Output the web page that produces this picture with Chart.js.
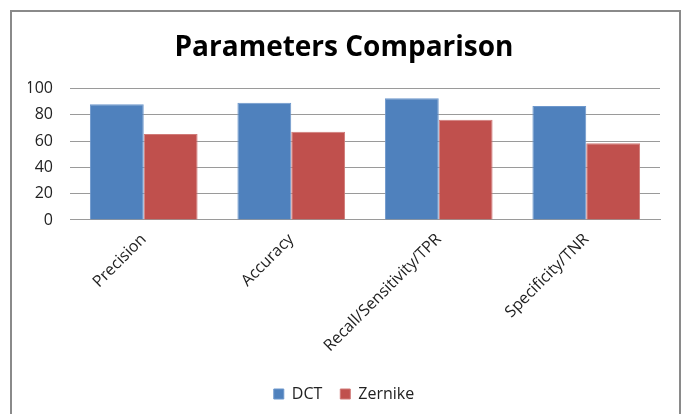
<!DOCTYPE html>
<html>
<head>
<meta charset="utf-8">
<script src="https://cdn.jsdelivr.net/npm/chart.js@4/dist/chart.umd.min.js"></script>
<style>
  html, body { margin: 0; padding: 0; background: #ffffff; }
  #wrap { width: 688px; height: 414px; position: relative; }
</style>
</head>
<body>
<div id="wrap"><canvas id="chart" width="688" height="414"></canvas></div>
<script>
const categories = ["Precision", "Accuracy", "Recall/Sensitivity/TPR", "Specificity/TNR"];
const dctValues = [88, 89.2, 92.6, 86.7];
const zernikeValues = [65.5, 67.2, 76.2, 58.5];
const yTicks = [0, 20, 40, 60, 80, 100];

// Outer chart frame
const framePlugin = {
  id: 'frame',
  beforeDraw(chart) {
    const ctx = chart.ctx;
    ctx.save();
    ctx.fillStyle = '#ffffff';
    ctx.fillRect(0, 0, chart.width, chart.height);
    ctx.strokeStyle = '#8a8a8a';
    ctx.lineWidth = 2;
    ctx.strokeRect(11, 11, 669, 430);
    ctx.restore();
  }
};

new Chart(document.getElementById('chart'), {
  type: 'bar',
  data: {
    labels: categories,
    datasets: [
      { label: 'DCT', data: dctValues, backgroundColor: '#4f81bd', borderColor: '#6d97cc', borderWidth: 1 },
      { label: 'Zernike', data: zernikeValues, backgroundColor: '#c0504d', borderColor: '#d07a78', borderWidth: 1 }
    ]
  },
  plugins: [framePlugin],
  options: {
    responsive: false,
    animation: false,
    layout: { padding: { left: 28, right: 28, top: 0, bottom: 2 } },
    datasets: { bar: { barPercentage: 1.0, categoryPercentage: 0.73 } },
    plugins: {
      title: {
        display: true,
        text: 'Parameters Comparison',
        color: '#000000',
        font: { family: 'Open Sans', size: 28, weight: 'bold' },
        padding: { top: 31, bottom: 24 }
      },
      legend: {
        position: 'bottom',
        labels: {
          color: '#222222',
          font: { family: 'Open Sans', size: 16 },
          boxWidth: 10,
          boxHeight: 10,
          padding: 18
        }
      },
      tooltip: { enabled: false }
    },
    scales: {
      x: {
        grid: { display: false },
        border: { color: '#9a9a9a', width: 1 },
        afterFit(scale) { scale.height = 148; },
        ticks: {
          color: '#222222',
          font: { family: 'Open Sans', size: 16 },
          minRotation: 45,
          maxRotation: 45,
          padding: 2
        }
      },
      y: {
        min: 0,
        max: 100,
        afterBuildTicks(scale) { scale.ticks = yTicks.map(v => ({ value: v })); },
        afterFit(scale) { scale.width = 42; },
        grid: { color: '#9a9a9a', drawTicks: false },
        border: { display: false },
        ticks: {
          color: '#222222',
          font: { family: 'Open Sans', size: 16 },
          padding: 17
        }
      }
    }
  }
});
</script>
</body>
</html>
